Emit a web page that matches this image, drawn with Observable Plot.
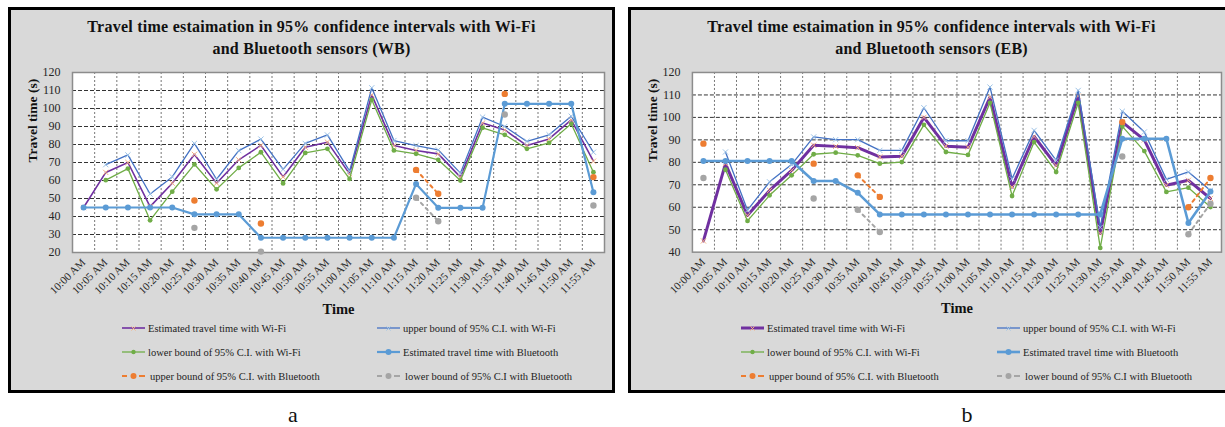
<!DOCTYPE html>
<html>
<head>
<meta charset="utf-8">
<script src="https://cdn.jsdelivr.net/npm/d3@7"></script>
<script src="https://cdn.jsdelivr.net/npm/@observablehq/plot@0.6"></script>
<style>
  body { margin: 0; background: #fff; }
  #root { position: relative; width: 1225px; height: 427px; overflow: hidden; font-family: "Liberation Serif", serif; color: #262626; }
  .panel { position: absolute; top: 7px; width: 607px; height: 386px; box-sizing: border-box; border: 3px solid #000; background: #d9d9d9; }
  .title { position: absolute; left: 0; top: 6px; width: 601px; text-align: center; font-weight: bold; font-size: 16px; letter-spacing: 0.25px; line-height: 22px; color: #111; }
  .chart { position: absolute; top: 60px; }
  .leg { position: absolute; height: 14px; display: flex; align-items: center; font-size: 10.5px; white-space: nowrap; color: #222; }
  .leg svg { flex: none; margin-right: 3px; }
  .tag { position: absolute; top: 401px; width: 40px; text-align: center; font-size: 22px; line-height: 28px; color: #111; }
</style>
</head>
<body>
<div id="root">
  <div class="panel" style="left:8px"><div class="title">Travel time estaimation in 95% confidence intervals with Wi-Fi<br>and Bluetooth sensors (WB)</div></div>
  <div class="panel" style="left:628px"><div class="title">Travel time estaimation in 95% confidence intervals with Wi-Fi<br>and Bluetooth sensors (EB)</div></div>
  <div id="chartA" class="chart" style="left:11px"></div>
  <div id="chartB" class="chart" style="left:631px"></div>
  <div class="tag" style="left:273px">a</div>
  <div class="tag" style="left:947px">b</div>
</div>
<script>
const times = ["10:00 AM","10:05 AM","10:10 AM","10:15 AM","10:20 AM","10:25 AM","10:30 AM","10:35 AM","10:40 AM","10:45 AM","10:50 AM","10:55 AM","11:00 AM","11:05 AM","11:10 AM","11:15 AM","11:20 AM","11:25 AM","11:30 AM","11:35 AM","11:40 AM","11:45 AM","11:50 AM","11:55 AM"];

const seriesNames = [
  "Estimated travel time with Wi-Fi",
  "upper bound of 95% C.I. with Wi-Fi",
  "lower bound of 95% C.I. with Wi-Fi",
  "Estimated travel time with Bluetooth",
  "upper bound of 95% C.I. with Bluetooth",
  "lower bound of 95% C.I with Bluetooth"
];

// Panel a (WB)
const wbTicks = [20, 30, 40, 50, 60, 70, 80, 90, 100, 110, 120];
const wbWifiEst = [45, 64.5, 70, 45.5, 58.5, 74.5, 58.5, 71.5, 79.5, 62, 78.5, 81.3, 63.7, 107.6, 79.4, 76.7, 74.8, 61.9, 91.9, 88.1, 79.4, 83.1, 93.7, 70.7];
const wbWifiUp  = [null, 68.8, 74.2, 52.5, 62, 80.6, 60.7, 76.6, 83, 66.2, 80.6, 85.3, 65.2, 111.5, 82.2, 79.4, 77, 64.1, 95.2, 90, 81.7, 85.4, 95.7, 75.7];
const wbWifiLow = [null, 60.2, 66.6, 37.9, 53.8, 69, 55.1, 67, 75.7, 58.4, 75.3, 77.6, 60.9, 104.8, 76.7, 74.8, 71.5, 60, 89.3, 85.4, 77.6, 80.9, 91.5, 64.6];
const wbBtEst   = [45, 45, 45, 45, 45, 41.2, 41.2, 41.2, 28.2, 28.2, 28.2, 28.2, 28.2, 28.2, 28.2, 58.1, 44.8, 44.8, 44.8, 102.6, 102.6, 102.6, 102.6, 53.5];
const wbBtUp    = [null, null, null, null, null, 48.9, null, null, 36.1, null, null, null, null, null, null, 65.9, 52.6, null, null, 108.1, null, null, null, 61.9];
const wbBtLow   = [null, null, null, null, null, 33.7, null, null, 20.5, null, null, null, null, null, null, 50.4, 37.4, null, null, 96.7, null, null, null, 46.1];

// Panel b (EB)
const ebTicks = [40, 50, 60, 70, 80, 90, 100, 110, 120];
const ebWifiEst = [45, 79.4, 56.4, 67.5, 76.4, 87.6, 87.1, 86.5, 82.4, 82.7, 100, 87.2, 86.7, 109, 69, 91.5, 78.6, 109.5, 48.3, 97.9, 90, 69.8, 72, 63.9];
const ebWifiUp  = [null, 84.6, 58.7, 71.3, 79, 91.3, 90.1, 90.1, 85.3, 85.3, 104.3, 89.6, 89.6, 113.5, 72.7, 94.2, 80.9, 112, 51, 102.7, 93.5, 72.4, 75.7, 67.5];
const ebWifiLow = [null, 76.7, 53.9, 65.3, 74.2, 83.6, 84.3, 83.1, 79.4, 80.1, 96.7, 84.6, 83.3, 106.5, 65, 89, 75.7, 106.5, 41.9, 96, 85, 66.8, 68.7, 60.1];
const ebBtEst   = [80.6, 80.6, 80.6, 80.6, 80.6, 71.7, 71.7, 66.4, 56.8, 56.8, 56.8, 56.8, 56.8, 56.8, 56.8, 56.8, 56.8, 56.8, 56.8, 90.5, 90.5, 90.5, 53, 67];
const ebBtUp    = [88.3, null, null, null, null, 79.4, null, 74.2, 64.6, null, null, null, null, null, null, null, null, null, null, 97.9, null, null, 60, 73];
const ebBtLow   = [73, null, null, null, null, 63.9, null, 58.9, 49, null, null, null, null, null, null, null, null, null, null, 82.6, null, null, 48, 61.6];

const colors = ["#7030a0", "#4472c4", "#70ad47", "#5b9bd5", "#ed7d31", "#a5a5a5"];

function chart({series, yTicks, width, estWidth, btWidth}) {
  const idx = times.map((_, i) => i);
  const rows = vals => vals.map((v, i) => ({i, v: v == null ? NaN : v}));
  const pts = vals => rows(vals).filter(d => !isNaN(d.v));
  const [est, up, low, bt, btUp, btLow] = series;
  return Plot.plot({
    width, height: 270,
    marginLeft: 61, marginRight: 4, marginTop: 12, marginBottom: 78,
    style: {background: "transparent", fontFamily: "'Liberation Serif', serif", color: "#262626", overflow: "visible"},
    x: {domain: [-0.5, times.length - 0.5], label: null},
    y: {domain: [yTicks[0], yTicks[yTicks.length - 1]], label: null},
    marks: [
      Plot.frame({fill: "white"}),
      Plot.ruleX(idx.slice(1), {x: i => i - 0.5, stroke: "#777", strokeDasharray: "2,2"}),
      Plot.ruleY(yTicks.slice(1, -1), {stroke: "#333", strokeDasharray: "4,2"}),
      Plot.frame({stroke: "#8c8c8c", strokeWidth: 1.5}),
      Plot.axisY(yTicks, {tickSize: 0, tickPadding: 12, fontSize: 12, label: null}),
      Plot.axisX(idx, {tickFormat: i => times[i], tickRotate: -45, tickSize: 0, tickPadding: 8, fontSize: 11, label: null}),
      Plot.text(["Time"], {text: d => d, frameAnchor: "bottom", dy: 61, fontWeight: "bold", fontSize: 14.5, fill: "#111"}),
      Plot.text(["Travel time (s)"], {text: d => d, frameAnchor: "left", rotate: -90, dx: -40, fontWeight: "bold", fontSize: 13.5, fill: "#111"}),
      // Wi-Fi estimate
      Plot.line(rows(est), {x: "i", y: "v", stroke: colors[0], strokeWidth: estWidth}),
      Plot.dot(pts(est), {x: "i", y: "v", symbol: "times", r: 2.5, stroke: "#f4b183", strokeWidth: 1}),
      // Wi-Fi upper
      Plot.line(rows(up), {x: "i", y: "v", stroke: colors[1], strokeWidth: 1.3}),
      Plot.dot(pts(up), {x: "i", y: "v", symbol: "times", r: 2.5, stroke: "#9dc3e6", strokeWidth: 1}),
      // Wi-Fi lower
      Plot.line(rows(low), {x: "i", y: "v", stroke: colors[2], strokeWidth: 1.3}),
      Plot.dot(pts(low), {x: "i", y: "v", r: 2.4, fill: colors[2]}),
      // Bluetooth estimate
      Plot.line(rows(bt), {x: "i", y: "v", stroke: colors[3], strokeWidth: btWidth}),
      Plot.dot(pts(bt), {x: "i", y: "v", r: 3, fill: colors[3]}),
      // Bluetooth upper
      Plot.line(rows(btUp), {x: "i", y: "v", stroke: colors[4], strokeWidth: 2, strokeDasharray: "3,4"}),
      Plot.dot(pts(btUp), {x: "i", y: "v", r: 3.2, fill: colors[4]}),
      // Bluetooth lower
      Plot.line(rows(btLow), {x: "i", y: "v", stroke: colors[5], strokeWidth: 2, strokeDasharray: "3,4"}),
      Plot.dot(pts(btLow), {x: "i", y: "v", r: 3.2, fill: colors[5]})
    ]
  });
}

document.getElementById("chartA").append(chart({
  series: [wbWifiEst, wbWifiUp, wbWifiLow, wbBtEst, wbBtUp, wbBtLow],
  yTicks: wbTicks, width: 597, estWidth: 1.6, btWidth: 2.2
}));
document.getElementById("chartB").append(chart({
  series: [ebWifiEst, ebWifiUp, ebWifiLow, ebBtEst, ebBtUp, ebBtLow],
  yTicks: ebTicks, width: 595, estWidth: 3, btWidth: 2.6
}));

// Legends
function swatch(k, estW, btW) {
  const c = colors[k];
  const ns = "http://www.w3.org/2000/svg";
  const svg = document.createElementNS(ns, "svg");
  svg.setAttribute("width", 23); svg.setAttribute("height", 10);
  const line = document.createElementNS(ns, "line");
  line.setAttribute("x1", 0); line.setAttribute("x2", 23); line.setAttribute("y1", 5); line.setAttribute("y2", 5);
  line.setAttribute("stroke", c);
  line.setAttribute("stroke-width", k === 0 ? estW : k === 3 ? btW : k >= 4 ? 2 : 1.3);
  if (k >= 4) line.setAttribute("stroke-dasharray", "5,13");
  svg.append(line);
  if (k >= 4) {
    const l2 = line.cloneNode(); l2.setAttribute("x1", 17); l2.setAttribute("stroke-dasharray", ""); svg.append(l2);
  }
  if (k === 0 || k === 1) {
    const p = document.createElementNS(ns, "path");
    p.setAttribute("d", "M9.5,3.5L13.5,7.5M13.5,3.5L9.5,7.5");
    p.setAttribute("stroke", k === 0 ? "#f4b183" : "#9dc3e6");
    svg.append(p);
  } else {
    const ci = document.createElementNS(ns, "circle");
    ci.setAttribute("cx", 11.5); ci.setAttribute("cy", 5); ci.setAttribute("r", k === 2 ? 2.2 : 3);
    ci.setAttribute("fill", c);
    svg.append(ci);
  }
  return svg;
}
function legend(cols, estW, btW) {
  const rowsY = [328, 352, 376];
  const root = document.getElementById("root");
  seriesNames.forEach((name, k) => {
    const r = Math.floor(k / 2), c = k % 2;
    const div = document.createElement("div");
    div.className = "leg";
    div.style.left = cols[c] + "px";
    div.style.top = (rowsY[r] - 7) + "px";
    div.append(swatch(k, estW, btW));
    const span = document.createElement("span");
    span.textContent = name;
    if (k >= 4) span.style.marginLeft = "2px";
    div.append(span);
    root.append(div);
  });
}
legend([122, 377], 1.6, 2.2);
legend([741, 997], 3, 2.6);
</script>
</body>
</html>
